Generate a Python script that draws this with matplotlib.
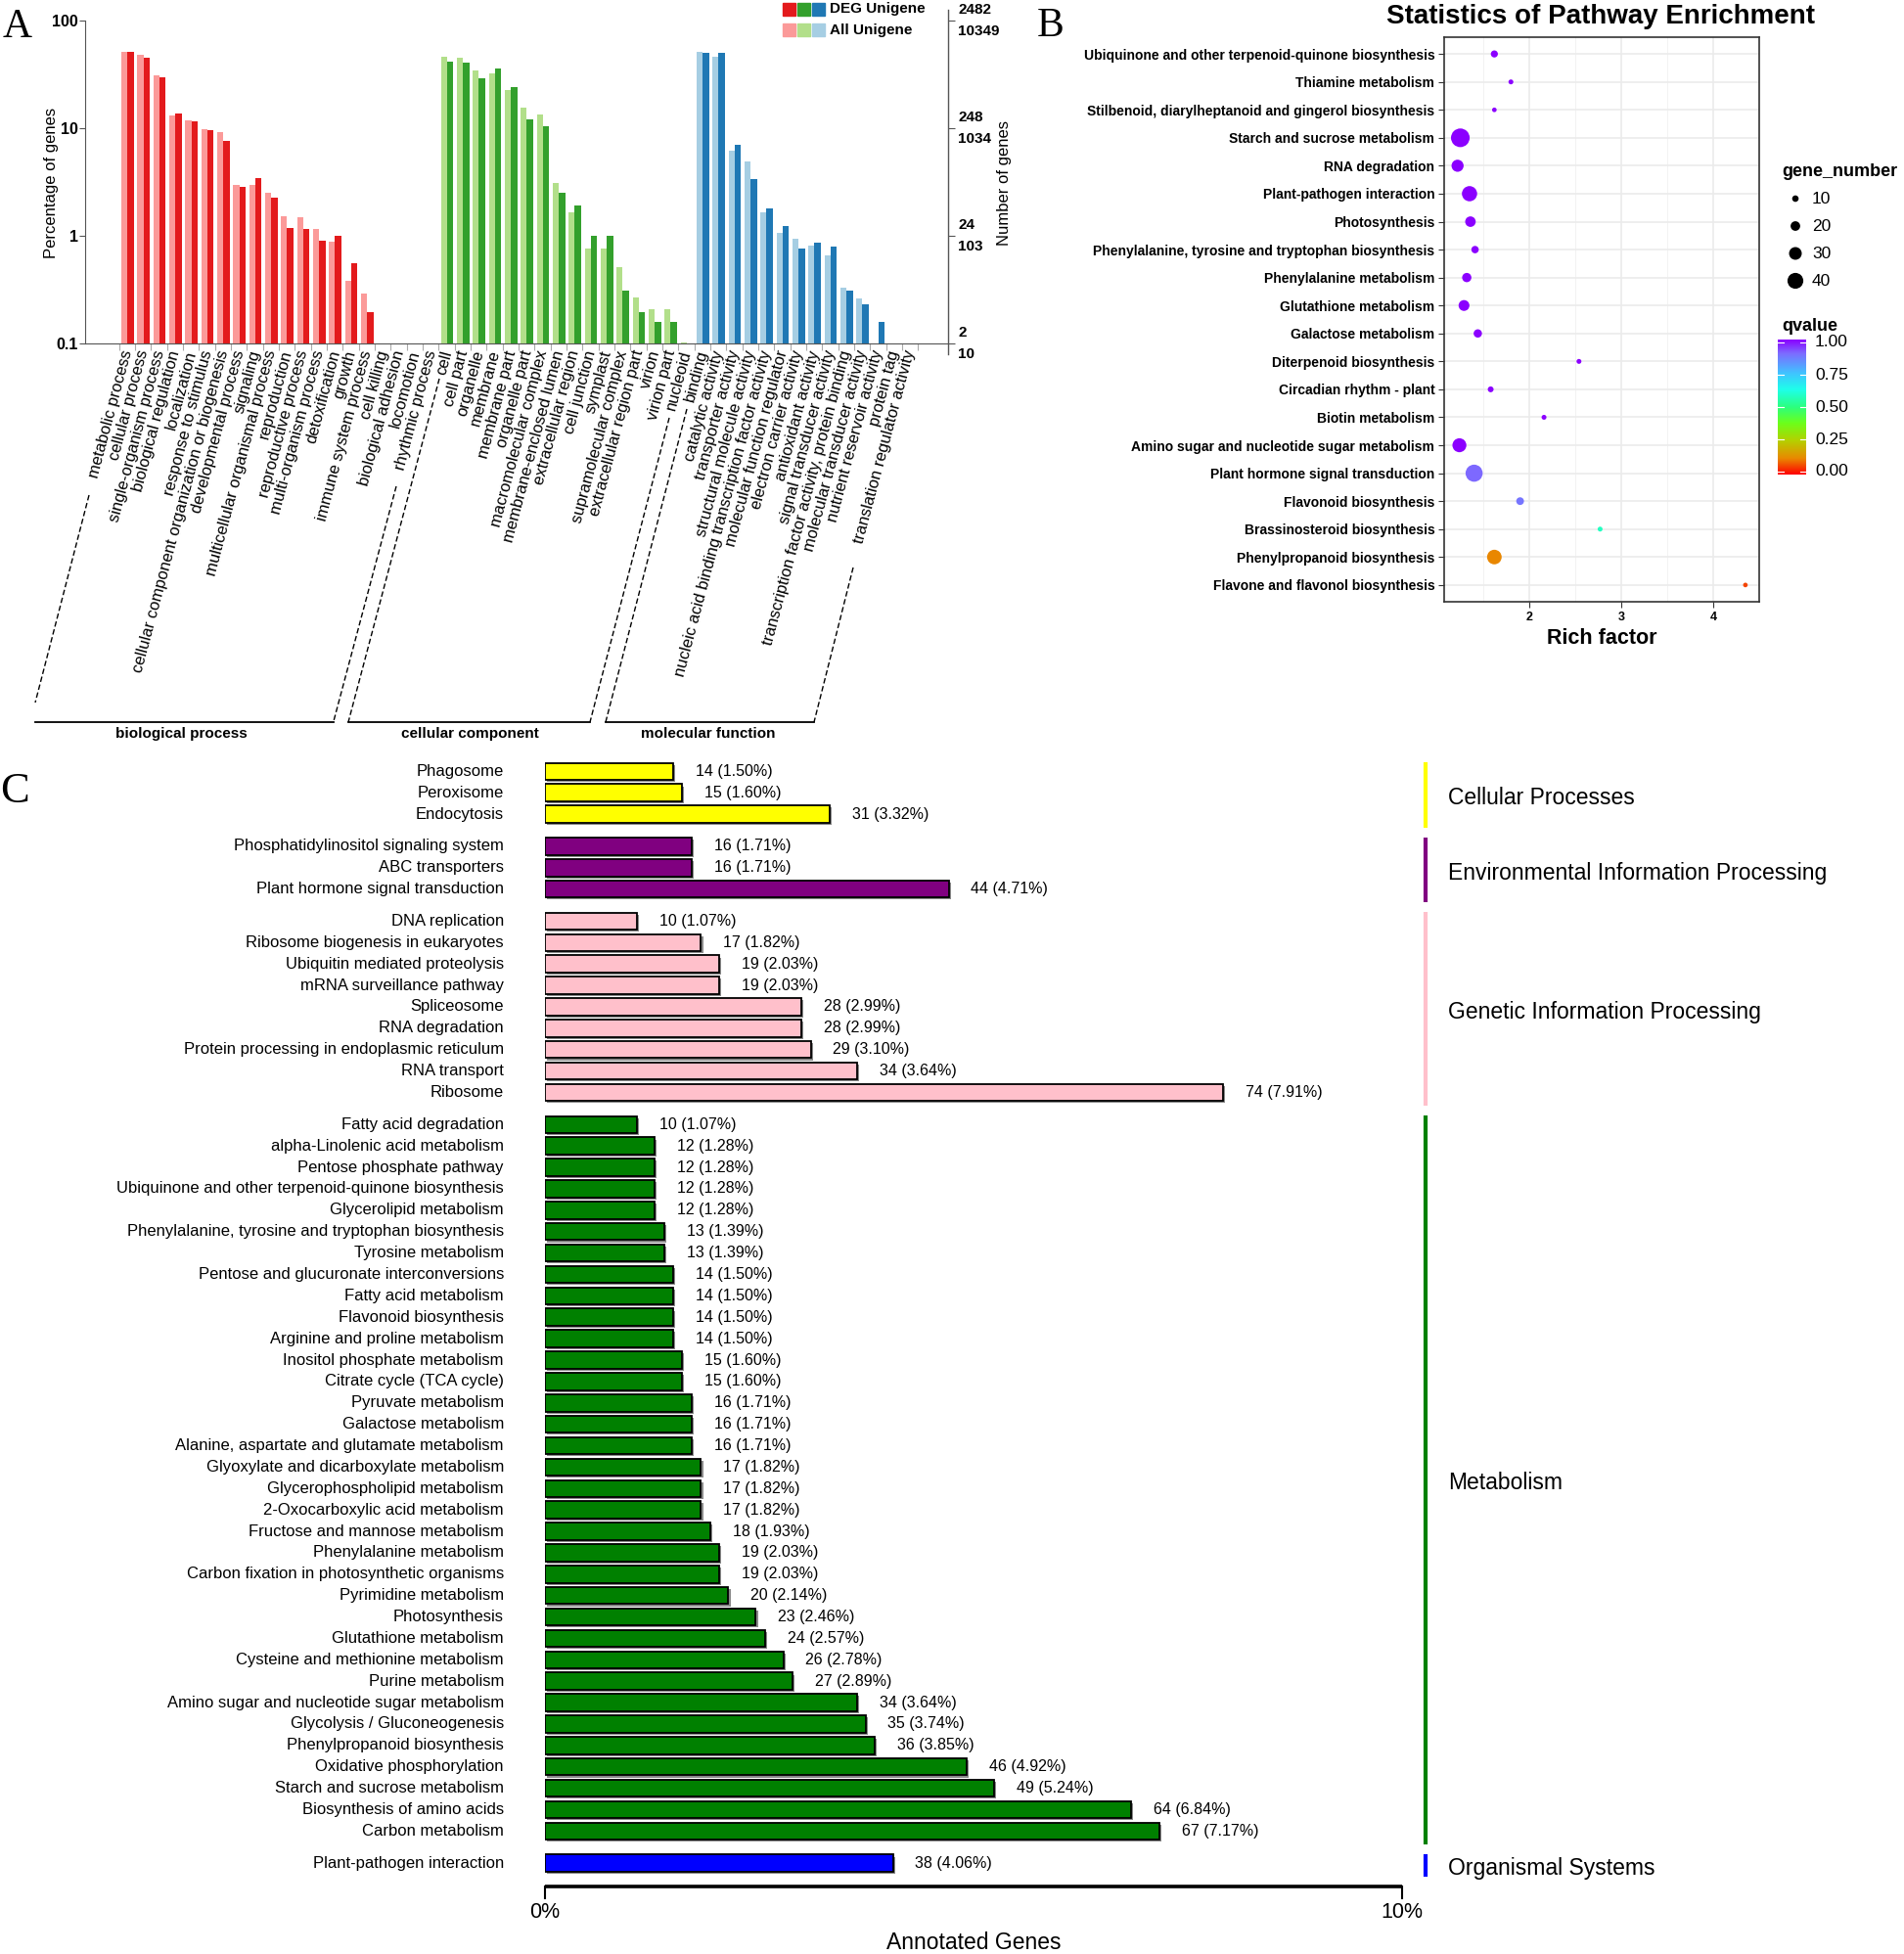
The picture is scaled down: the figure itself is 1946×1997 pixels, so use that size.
import numpy as np
import matplotlib
matplotlib.use('Agg')
import matplotlib.pyplot as plt
from matplotlib.lines import Line2D
from matplotlib.patches import Rectangle
from matplotlib.colors import LinearSegmentedColormap
from matplotlib.ticker import NullLocator
import matplotlib.patheffects as pe
import matplotlib.transforms as mtransforms

plt.rcParams['font.family'] = ['Liberation Sans', 'DejaVu Sans']

# ======================= DATA =======================
# Panel A : GO classification (percentage of genes, log scale)
bp_terms = ['metabolic process', 'cellular process', 'single-organism process', 'biological regulation',
            'localization', 'response to stimulus', 'cellular component organization or biogenesis',
            'developmental process', 'signaling', 'multicellular organismal process', 'reproduction',
            'reproductive process', 'multi-organism process', 'detoxification', 'growth',
            'immune system process', 'cell killing', 'biological adhesion', 'locomotion', 'rhythmic process']
bp_all = [51.5, 48.0, 31.0, 13.0, 11.7, 9.7, 9.2, 2.95, 2.95, 2.49, 1.52, 1.49, 1.15, 0.88, 0.38, 0.29,
          np.nan, np.nan, np.nan, np.nan]
bp_deg = [51.5, 45.5, 29.7, 13.8, 11.5, 9.5, 7.6, 2.85, 3.46, 2.28, 1.18, 1.15, 0.91, 1.0, 0.56, 0.197,
          np.nan, np.nan, np.nan, np.nan]

cc_terms = ['cell', 'cell part', 'organelle', 'membrane', 'membrane part', 'organelle part',
            'macromolecular complex', 'membrane-enclosed lumen', 'extracellular region', 'cell junction',
            'symplast', 'supramolecular complex', 'extracellular region part', 'virion', 'virion part',
            'nucleoid']
cc_all = [46.1, 45.1, 34.1, 32.5, 22.8, 15.4, 13.5, 3.07, 1.65, 0.76, 0.76, 0.51, 0.27, 0.21, 0.21, 0.103]
cc_deg = [41.8, 40.9, 28.9, 36.1, 24.3, 12.2, 10.5, 2.51, 1.93, 1.0, 1.0, 0.31, 0.197, 0.157, 0.157, np.nan]

mf_terms = ['binding', 'catalytic activity', 'transporter activity', 'structural molecule activity',
            'nucleic acid binding transcription factor activity', 'molecular function regulator',
            'electron carrier activity', 'antioxidant activity', 'signal transducer activity',
            'transcription factor activity, protein binding', 'molecular transducer activity',
            'nutrient reservoir activity', 'protein tag', 'translation regulator activity']
mf_all = [51.2, 46.4, 6.22, 4.87, 1.65, 1.07, 0.93, 0.81, 0.66, 0.33, 0.26, np.nan, np.nan, np.nan]
mf_deg = [49.8, 49.8, 7.05, 3.37, 1.81, 1.23, 0.76, 0.87, 0.79, 0.31, 0.23, 0.157, np.nan, np.nan]

pct_ticks = [0.1, 1, 10, 100]
pct_tick_labels = ['0.1', '1', '10', '100']
deg_number_labels = ['2', '24', '248', '2482']
all_number_labels = ['10', '103', '1034', '10349']
go_group_names = ['biological process', 'cellular component', 'molecular function']

# Panel B : KEGG enrichment scatter
kegg_terms = ['Ubiquinone and other terpenoid-quinone biosynthesis', 'Thiamine metabolism',
              'Stilbenoid, diarylheptanoid and gingerol biosynthesis', 'Starch and sucrose metabolism',
              'RNA degradation', 'Plant-pathogen interaction', 'Photosynthesis',
              'Phenylalanine, tyrosine and tryptophan biosynthesis', 'Phenylalanine metabolism',
              'Glutathione metabolism', 'Galactose metabolism', 'Diterpenoid biosynthesis',
              'Circadian rhythm - plant', 'Biotin metabolism', 'Amino sugar and nucleotide sugar metabolism',
              'Plant hormone signal transduction', 'Flavonoid biosynthesis', 'Brassinosteroid biosynthesis',
              'Phenylpropanoid biosynthesis', 'Flavone and flavonol biosynthesis']
kegg_rich = [1.62, 1.80, 1.62, 1.25, 1.22, 1.35, 1.36, 1.41, 1.32, 1.29, 1.44, 2.54, 1.58, 2.16, 1.24,
             1.40, 1.90, 2.77, 1.62, 4.35]
kegg_genes = [12, 5, 4, 49, 28, 38, 23, 13, 19, 24, 16, 5, 8, 5, 34, 44, 14, 5, 36, 4]
kegg_q = [1.0, 1.0, 1.0, 1.0, 1.0, 1.0, 1.0, 1.0, 1.0, 1.0, 1.0, 1.0, 1.0, 1.0, 1.0,
          0.9, 0.88, 0.58, 0.12, 0.06]
gene_legend_values = [10, 20, 30, 40]
q_legend_values = [0.0, 0.25, 0.5, 0.75, 1.0]
rich_ticks = [2, 3, 4]

# Panel C : KEGG classification
cp_names = ['Phagosome', 'Peroxisome', 'Endocytosis']
cp_counts = [14, 15, 31]
cp_pcts = [1.50, 1.60, 3.32]

eip_names = ['Phosphatidylinositol signaling system', 'ABC transporters', 'Plant hormone signal transduction']
eip_counts = [16, 16, 44]
eip_pcts = [1.71, 1.71, 4.71]

gip_names = ['DNA replication', 'Ribosome biogenesis in eukaryotes', 'Ubiquitin mediated proteolysis',
             'mRNA surveillance pathway', 'Spliceosome', 'RNA degradation',
             'Protein processing in endoplasmic reticulum', 'RNA transport', 'Ribosome']
gip_counts = [10, 17, 19, 19, 28, 28, 29, 34, 74]
gip_pcts = [1.07, 1.82, 2.03, 2.03, 2.99, 2.99, 3.10, 3.64, 7.91]

met_names = ['Fatty acid degradation', 'alpha-Linolenic acid metabolism', 'Pentose phosphate pathway',
             'Ubiquinone and other terpenoid-quinone biosynthesis', 'Glycerolipid metabolism',
             'Phenylalanine, tyrosine and tryptophan biosynthesis', 'Tyrosine metabolism',
             'Pentose and glucuronate interconversions', 'Fatty acid metabolism', 'Flavonoid biosynthesis',
             'Arginine and proline metabolism', 'Inositol phosphate metabolism', 'Citrate cycle (TCA cycle)',
             'Pyruvate metabolism', 'Galactose metabolism', 'Alanine, aspartate and glutamate metabolism',
             'Glyoxylate and dicarboxylate metabolism', 'Glycerophospholipid metabolism',
             '2-Oxocarboxylic acid metabolism', 'Fructose and mannose metabolism', 'Phenylalanine metabolism',
             'Carbon fixation in photosynthetic organisms', 'Pyrimidine metabolism', 'Photosynthesis',
             'Glutathione metabolism', 'Cysteine and methionine metabolism', 'Purine metabolism',
             'Amino sugar and nucleotide sugar metabolism', 'Glycolysis / Gluconeogenesis',
             'Phenylpropanoid biosynthesis', 'Oxidative phosphorylation', 'Starch and sucrose metabolism',
             'Biosynthesis of amino acids', 'Carbon metabolism']
met_counts = [10, 12, 12, 12, 12, 13, 13, 14, 14, 14, 14, 15, 15, 16, 16, 16, 17, 17, 17, 18, 19, 19,
              20, 23, 24, 26, 27, 34, 35, 36, 46, 49, 64, 67]
met_pcts = [1.07, 1.28, 1.28, 1.28, 1.28, 1.39, 1.39, 1.50, 1.50, 1.50, 1.50, 1.60, 1.60, 1.71, 1.71,
            1.71, 1.82, 1.82, 1.82, 1.93, 2.03, 2.03, 2.14, 2.46, 2.57, 2.78, 2.89, 3.64, 3.74, 3.85,
            4.92, 5.24, 6.84, 7.17]

os_names = ['Plant-pathogen interaction']
os_counts = [38]
os_pcts = [4.06]

class_names = ['Cellular Processes', 'Environmental Information Processing', 'Genetic Information Processing',
               'Metabolism', 'Organismal Systems']
pct_axis_ticks = [0, 10]

# ======================= LAYOUT HELPERS =======================
W, H = 1946, 1997
fig = plt.figure(figsize=(W / 100, H / 100), dpi=100)


def frect(x0, y0, x1, y1):
    return [x0 / W, 1 - y1 / H, (x1 - x0) / W, (y1 - y0) / H]


def fx(x):
    return x / W


def fy(y):
    return 1 - y / H


def fline(xs, ys, **kw):
    fig.add_artist(Line2D([fx(x) for x in xs], [fy(y) for y in ys], transform=fig.transFigure, **kw))


# ======================= PANEL A =======================
axA = fig.add_axes(frect(87, 21, 969, 351))
axA.set_yscale('log')
axA.set_ylim(0.1, 100)
slot_px, first_px = 16.33, 121.7
axA.set_xlim((87 - first_px) / slot_px, (969 - first_px) / slot_px)

go_groups = [(bp_terms, bp_all, bp_deg, '#FB9A99', '#E31A1C'),
             (cc_terms, cc_all, cc_deg, '#B2DF8A', '#33A02C'),
             (mf_terms, mf_all, mf_deg, '#A6CEE3', '#1F78B4')]
lab_tr = mtransforms.blended_transform_factory(axA.transData, axA.transAxes)
start = 0
for terms, alls, degs, lc, dc in go_groups:
    n = len(terms)
    xs = np.arange(start, start + n)
    a = np.array(alls, float)
    d = np.array(degs, float)
    axA.bar(xs + 0.14, a - 0.1, bottom=0.1, width=0.38, align='edge', color=lc, edgecolor='none')
    axA.bar(xs + 0.52, d - 0.1, bottom=0.1, width=0.40, align='edge', color=dc, edgecolor='none')
    for x, t in zip(xs, terms):
        axA.text(x + 0.55, -0.022, t, transform=lab_tr, rotation=75, ha='right', va='center',
                 rotation_mode='anchor', fontsize=12)
    start += n

axA.set_xticks(np.arange(0, start + 1))
axA.tick_params(axis='x', length=5, color='#aaaaaa', labelbottom=False, direction='out')
axA.set_yticks(pct_ticks)
axA.set_yticklabels(pct_tick_labels, fontsize=11.5, fontweight='bold')
axA.yaxis.set_minor_locator(NullLocator())
axA.tick_params(axis='y', length=4, color='#555555', pad=1)
for s in ['top', 'right']:
    axA.spines[s].set_visible(False)
for s in ['left', 'bottom']:
    axA.spines[s].set_color('#555555')
axA.patch.set_alpha(0)

ax2 = axA.twinx()
ax2.set_yscale('log')
ax2.set_ylim(0.1, 100)
ax2.set_yticks(pct_ticks)
ax2.set_yticklabels([])
ax2.yaxis.set_minor_locator(NullLocator())
ax2.tick_params(axis='y', length=5, color='#555555', direction='out')
for s in ax2.spines.values():
    s.set_visible(False)
fline([969, 969], [10, 362], color='#555555', lw=1)

rtr = mtransforms.blended_transform_factory(axA.transAxes, axA.transData)
for v, dl, al in zip(pct_ticks, deg_number_labels, all_number_labels):
    axA.text(1 + 10 / 882, v, dl, transform=mtransforms.offset_copy(rtr, fig=fig, y=8, units='points'),
             ha='left', va='center', fontsize=11, fontweight='bold')
    axA.text(1 + 10 / 882, v, al, transform=mtransforms.offset_copy(rtr, fig=fig, y=-8, units='points'),
             ha='left', va='center', fontsize=11, fontweight='bold')

fig.text(fx(53), fy(187), 'Percentage of genes', rotation=90, ha='center', va='center', fontsize=12)
fig.text(fx(1027), fy(187), 'Number of genes', rotation=90, ha='center', va='center', fontsize=12)

# legend
for i, (_, _, _, lc, dc) in enumerate(go_groups):
    x0 = 800 + i * 15
    fig.add_artist(Rectangle((fx(x0), fy(16)), 13 / W, 13 / H, transform=fig.transFigure, color=dc))
    fig.add_artist(Rectangle((fx(x0), fy(37)), 13 / W, 13 / H, transform=fig.transFigure, color=lc))
fig.text(fx(848), fy(9), 'DEG Unigene', ha='left', va='center', fontsize=11, fontweight='bold')
fig.text(fx(848), fy(31), 'All Unigene', ha='left', va='center', fontsize=11, fontweight='bold')

# GO group brackets
dash = dict(color='black', lw=1, linestyle=(0, (4, 2)))
fline([91, 36], [506, 718], **dash)
fline([36, 341], [738, 738], color='black', lw=1.3)
fline([405, 341], [497, 737], **dash)
fline([449, 356], [387, 738], **dash)
fline([356, 603], [738, 738], color='black', lw=1.3)
fline([684, 603], [427, 738], **dash)
fline([702, 619], [418, 738], **dash)
fline([619, 832], [738, 738], color='black', lw=1.3)
fline([872, 832], [580, 738], **dash)
for name, cx in zip(go_group_names, [185, 480, 724]):
    fig.text(fx(cx), fy(750), name, ha='center', va='center', fontsize=11, fontweight='bold')

# panel letters
serif = ['Liberation Serif', 'DejaVu Serif']
fig.text(fx(3), fy(38), 'A', fontsize=30, family=serif, ha='left', va='baseline')
fig.text(fx(1060), fy(37), 'B', fontsize=30, family=serif, ha='left', va='baseline')
fig.text(fx(0), fy(820), 'C', fontsize=32, family=serif, ha='left', va='baseline')

# ======================= PANEL B =======================
q_cmap = LinearSegmentedColormap.from_list('q', [
    (0.0, '#FF0000'), (0.12, '#E98A00'), (0.25, '#B5D000'), (0.38, '#6CFF1A'), (0.5, '#2CFF7E'),
    (0.63, '#1EFFEA'), (0.75, '#3FC4FF'), (0.9, '#7D6BFF'), (1.0, '#8B00FF')])


def dot_area(v):
    d_px = 3.4 + 0.32 * np.asarray(v, float)
    return (d_px * 72 / 100) ** 2


axB = fig.add_axes(frect(1476, 38, 1798, 615))
ys = np.arange(len(kegg_terms))
axB.scatter(kegg_rich, ys, s=dot_area(kegg_genes), c=kegg_q, cmap=q_cmap, vmin=0, vmax=1,
            edgecolors='none', zorder=3)
axB.set_ylim(len(kegg_terms) - 0.4, -0.6)
axB.set_xlim(1.074, 4.5)
axB.set_yticks(ys)
axB.set_yticklabels(kegg_terms, fontsize=10, fontweight='bold')
axB.set_xticks(rich_ticks)
axB.set_xticklabels([str(t) for t in rich_ticks], fontsize=9, fontweight='bold')
axB.set_xticks([1.5, 2.5, 3.5, 4.5], minor=True)
axB.tick_params(axis='x', which='minor', length=0)
axB.grid(True, which='major', color='#EBEBEB', lw=1.2)
axB.grid(True, which='minor', axis='x', color='#F2F2F2', lw=0.7)
axB.set_axisbelow(True)
for s in axB.spines.values():
    s.set_color('#333333')
    s.set_linewidth(1.2)
axB.tick_params(axis='both', which='major', length=4, color='#333333', pad=3)
fig.text(fx(1636), fy(17), 'Statistics of Pathway Enrichment', ha='center', va='center', fontsize=20,
         fontweight='bold')
fig.text(fx(1637), fy(652), 'Rich factor', ha='center', va='center', fontsize=15.5, fontweight='bold')

# size legend
fig.text(fx(1821), fy(176), 'gene_number', ha='left', va='center', fontsize=13, fontweight='bold')
axL = fig.add_axes(frect(1815, 190, 1900, 300))
axL.set_xlim(1815, 1900)
axL.set_ylim(300, 190)
axL.axis('off')
leg_y = [203, 231, 259, 287]
axL.scatter([1835] * len(gene_legend_values), leg_y, s=dot_area(gene_legend_values), color='black',
            edgecolors='none')
for v, y in zip(gene_legend_values, leg_y):
    fig.text(fx(1852), fy(y), str(v), ha='left', va='center', fontsize=12.5)

# colour bar
fig.text(fx(1821), fy(333), 'qvalue', ha='left', va='center', fontsize=13, fontweight='bold')
cb_top, cb_bot = 350, 482
axCb = fig.add_axes(frect(1817, cb_top - 3, 1846, cb_bot + 3))
grad = np.linspace(0, 1, 256).reshape(-1, 1)
axCb.imshow(grad, cmap=q_cmap, aspect='auto', origin='lower', extent=[0, 1, -0.023, 1.023])
axCb.set_xlim(0, 1)
axCb.set_ylim(-0.023, 1.023)
axCb.axis('off')
for v in q_legend_values:
    axCb.plot([0, 0.2], [v, v], color='white', lw=0.8)
    axCb.plot([0.8, 1], [v, v], color='white', lw=0.8)
    fig.text(fx(1855), fy(cb_bot - v * (cb_bot - cb_top)), f'{v:.2f}', ha='left', va='center', fontsize=12.5)

# ======================= PANEL C =======================
row0, pitch = 788.3, 21.88
axC = fig.add_axes(frect(557, 777, 1433, 1940))
axC.set_xlim(0, 10)
axC.set_ylim((1940 - row0) / pitch, (777 - row0) / pitch)
axC.axis('off')

kegg_classes = [(class_names[0], '#FFFF00', cp_names, cp_counts, cp_pcts),
                (class_names[1], '#800080', eip_names, eip_counts, eip_pcts),
                (class_names[2], '#FFC0CB', gip_names, gip_counts, gip_pcts),
                (class_names[3], '#008000', met_names, met_counts, met_pcts),
                (class_names[4], '#0000FF', os_names, os_counts, os_pcts)]
u = 0.0
shadow = [pe.SimplePatchShadow(offset=(1.5, -1.5), shadow_rgbFace='#8a8a8a', alpha=1.0), pe.Normal()]
for cname, color, names, counts, pcts in kegg_classes:
    us = u + np.arange(len(names))
    bars = axC.barh(us, pcts, height=0.8, color=color, edgecolor='black', linewidth=1.3)
    for b in bars:
        b.set_path_effects(shadow)
    for y, nm, c, p in zip(us, names, counts, pcts):
        axC.text(-0.48, y, nm, ha='right', va='center', fontsize=12, clip_on=False)
        axC.text(p + 0.26, y, f'{c} ({p:.2f}%)', ha='left', va='center', fontsize=11.5)
    axC.plot([10.27, 10.27], [us[0] - 0.42, us[-1] + 0.62], color=color, lw=3, clip_on=False,
             solid_capstyle='butt')
    axC.text(10.54, (us[0] + us[-1]) / 2 + 0.25, cname, ha='left', va='center', fontsize=16.5, clip_on=False)
    u = us[-1] + 1.5

ax_y = (1928 - row0) / pitch
tick_end = (1940 - row0) / pitch
axC.plot([pct_axis_ticks[0], pct_axis_ticks[-1]], [ax_y, ax_y], color='black', lw=2.6, clip_on=False,
         solid_capstyle='butt')
for t in pct_axis_ticks:
    axC.plot([t, t], [ax_y, tick_end], color='black', lw=1.5, clip_on=False)
    axC.text(t, (1955 - row0) / pitch, f'{t}%', ha='center', va='center', fontsize=15.5, clip_on=False)
axC.text(5.0, (1986 - row0) / pitch, 'Annotated Genes', ha='center', va='center', fontsize=16.5,
         clip_on=False)

fig.savefig('out.png', dpi=100)
